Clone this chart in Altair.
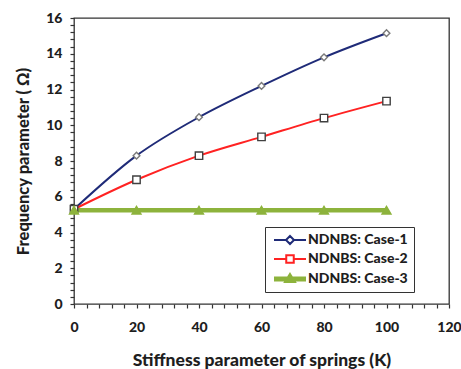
import altair as alt
import pandas as pd

# ---- data ----
K = [0, 20, 40, 60, 80, 100]
CASE1 = [5.3, 8.3, 10.45, 12.2, 13.8, 15.15]
CASE2 = [5.3, 6.95, 8.3, 9.35, 10.4, 11.35]
CASE3 = [5.25, 5.25, 5.25, 5.25, 5.25, 5.25]
SERIES = ["NDNBS: Case-1", "NDNBS: Case-2", "NDNBS: Case-3"]
X_TICKS = [0, 20, 40, 60, 80, 100, 120]
Y_TICKS = [0, 2, 4, 6, 8, 10, 12, 14, 16]
X_MINOR = [4, 8, 12, 16, 24, 28, 32, 36, 44, 48, 52, 56, 64, 68, 72, 76,
           84, 88, 92, 96, 104, 108, 112, 116]
Y_MINOR = [0.4, 0.8, 1.2, 1.6, 2.4, 2.8, 3.2, 3.6, 4.4, 4.8, 5.2, 5.6, 6.4, 6.8,
           7.2, 7.6, 8.4, 8.8, 9.2, 9.6, 10.4, 10.8, 11.2, 11.6, 12.4, 12.8,
           13.2, 13.6, 14.4, 14.8, 15.2, 15.6]

NAVY = "#1f2b78"
RED = "#ff2222"
GREEN = "#8db33c"
FONT = "Lato"
TXT = "#1e1e1e"

rows = []
for name, vals in zip(SERIES, [CASE1, CASE2, CASE3]):
    for k, v in zip(K, vals):
        rows.append({"K": k, "value": v, "series": name})
df = pd.DataFrame(rows)

W, H = 375, 286

xscale = alt.Scale(domain=[0, 120], nice=False, zero=False)
yscale = alt.Scale(domain=[0, 16], nice=False)

base = alt.Chart(df)

X_ALL = sorted(X_TICKS + X_MINOR)
Y_ALL = sorted(Y_TICKS + Y_MINOR)

XAX = alt.Axis(
    values=X_ALL, title="Stiffness parameter  of springs (K)", grid=False,
    labelExpr="datum.value % 20 == 0 ? datum.label : ''", labelOverlap=False,
    ticks=True, tickSize=4, tickColor="#333", tickWidth=1.2, domain=False, labelPadding=12,
    labelFont=FONT, labelFontWeight=900, labelFontSize=14, labelColor=TXT,
    titleFont=FONT, titleFontWeight=900, titleFontSize=17.5, titleColor=TXT,
    titlePadding=17, labelFlush=False,
)
YAX = alt.Axis(
    values=Y_ALL, title="Frequency parameter ( Ω)", grid=False,
    labelExpr="datum.value % 2 == 0 ? format(datum.value, 'd') : ''", labelOverlap=False,
    ticks=True, tickSize=4, tickColor="#333", tickWidth=1.2, domain=False, labelPadding=8,
    labelFont=FONT, labelFontWeight=900, labelFontSize=14, labelColor=TXT,
    titleFont=FONT, titleFontWeight=900, titleFontSize=16.5, titleColor=TXT,
    titlePadding=14,
)

# legend symbols: line + marker drawn as one custom path (units of 5px)
path1 = "M-3.2,0H-0.8M0.8,0H3.2M0,-0.8L0.8,0L0,0.8L-0.8,0Z"
path2 = "M-3.2,0H-0.75M0.75,0H3.2M-0.75,-0.75H0.75V0.75H-0.75Z"
path3 = ("M-3.2,-0.3H3.2M-3.2,0H3.2M-3.2,0.3H3.2"
         "M0,-1L1,0.6L-1,0.6ZM0,-0.55L0.55,0.35L-0.55,0.35ZM0,-0.15L0.2,0.15L-0.2,0.15Z")

legend = alt.Legend(
    title=None, orient="none", legendX=191, legendY=209,
    fillColor="white", strokeColor="#333", padding=6,
    labelFont=FONT, labelFontWeight=900, labelFontSize=14, labelColor=TXT,
    symbolSize=100, symbolOffset=12, labelOffset=11, rowPadding=3,
    symbolOpacity=1, symbolFillColor="white", symbolStrokeWidth=2,
)

legend_layer = base.mark_point(opacity=0, filled=False).encode(
    x=alt.X("K:Q", scale=xscale, axis=XAX),
    y=alt.Y("value:Q", scale=yscale, axis=YAX),
    color=alt.Color("series:N", scale=alt.Scale(domain=SERIES, range=[NAVY, RED, GREEN]), legend=legend),
    shape=alt.Shape("series:N", scale=alt.Scale(domain=SERIES, range=[path1, path2, path3]), legend=legend),
)

STYLE = {
    "NDNBS: Case-1": dict(color=NAVY, width=2, shape="diamond", fill="white", stroke="#7a7a7a", size=45),
    "NDNBS: Case-2": dict(color=RED, width=2, shape="square", fill="white", stroke="#404040", size=55),
    "NDNBS: Case-3": dict(color=GREEN, width=4.5, shape="triangle-up", fill=GREEN, stroke=GREEN, size=80),
}

series_layers = []
for name in SERIES:
    st = STYLE[name]
    sub = base.transform_filter(alt.datum.series == name)
    ln = sub.mark_line(interpolate="monotone", color=st["color"], strokeWidth=st["width"]).encode(
        x=alt.X("K:Q", scale=xscale, axis=None),
        y=alt.Y("value:Q", scale=yscale, axis=None),
    )
    series_layers.append(ln)
for name in SERIES:
    st = STYLE[name]
    sub = base.transform_filter(alt.datum.series == name)
    pt = sub.mark_point(shape=st["shape"], fill=st["fill"], stroke=st["stroke"], size=st["size"],
                        opacity=1, fillOpacity=1, strokeWidth=1.4).encode(
        x=alt.X("K:Q", scale=xscale, axis=None),
        y=alt.Y("value:Q", scale=yscale, axis=None),
    )
    series_layers.append(pt)

chart = (
    alt.layer(legend_layer, *series_layers)
    .resolve_axis(x="independent", y="independent")
    .properties(
        width=W, height=H,
        autosize=alt.AutoSizeParams(type="none"),
        padding={"left": 74, "top": 18, "right": 461 - 74 - W, "bottom": 369 - 18 - H},
        background="white",
    )
    .configure_view(stroke="#333", strokeWidth=1.3)
)

chart.save("out.html", embed_options={"renderer": "svg", "actions": False})
